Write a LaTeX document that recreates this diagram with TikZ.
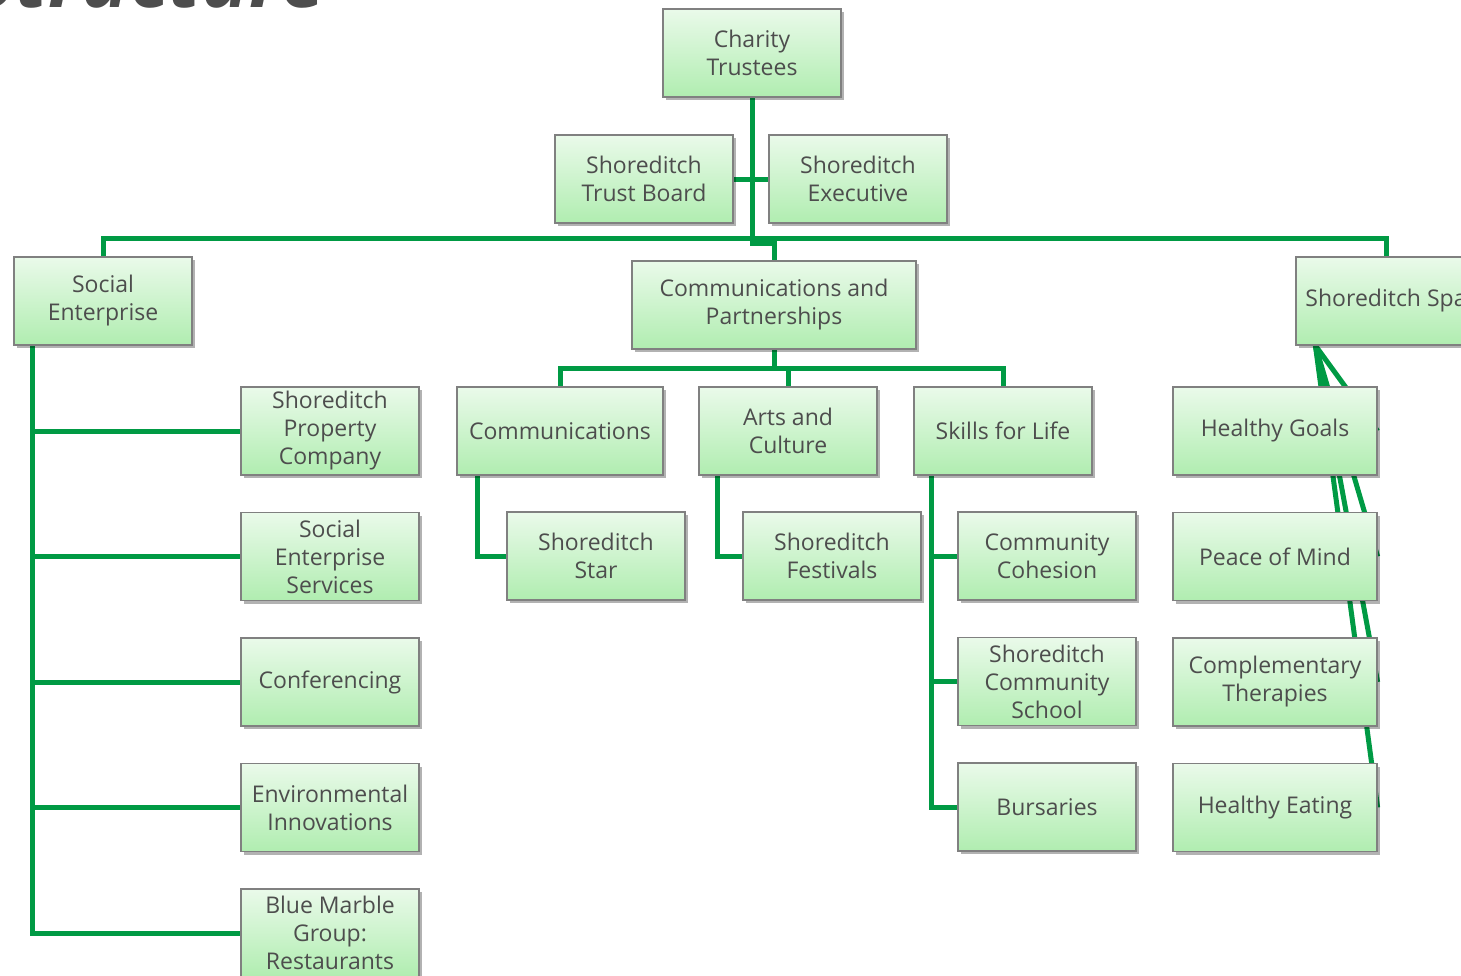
\documentclass[tikz,border=0pt]{standalone}
\usepackage{fontspec}
\setmainfont{Open Sans}
\usetikzlibrary{positioning,shadows,backgrounds}

\definecolor{linegreen}{RGB}{0,154,68}
\definecolor{boxtop}{RGB}{234,250,234}
\definecolor{boxbottom}{RGB}{176,237,176}
\definecolor{boxline}{RGB}{128,128,128}
\definecolor{textgray}{RGB}{77,77,77}

\begin{document}
\begin{tikzpicture}[x=1pt,y=-1pt,node distance=125.5pt,
    org/.style={rectangle,draw=boxline,line width=1.2pt,top color=boxtop,bottom color=boxbottom,
      minimum width=178pt,minimum height=88pt,inner sep=2pt,align=center,text=textgray,
      font=\fontsize{23}{28}\selectfont,
      drop shadow={shadow xshift=3pt,shadow yshift=-3pt,opacity=0.3,fill=black}},
    wide org/.style={org,minimum width=206pt},
    link/.style={draw=linegreen,line width=5pt}]

  \useasboundingbox (0,0) rectangle (1461,975);
  \clip (0,0) rectangle (1461,975);

  \node[font=\fontsize{80}{80}\selectfont\bfseries\itshape,text=textgray,anchor=base east] (title) at (330,7) {Structure};

  % top of the tree
  \node[org] (trustees) at (752,53) {Charity\\Trustees};
  \node[org] (board) at (644,179) {Shoreditch\\Trust Board};
  \node[org] (exec) at (858,179) {Shoreditch\\Executive};

  \node[org] (social) at (103,301) {Social\\Enterprise};
  \node[org,minimum width=284pt] (comms) at (774,305) {Communications and\\Partnerships};
  \node[org,minimum width=180pt] (spa) at (1386,301) {Shoreditch Spa};

  % social enterprise
  \node[org] (prop) at (330,431) {Shoreditch\\Property\\Company};
  \node[org] (ses) [below of=prop] {Social\\Enterprise\\Services};
  \node[org] (conf) [below of=ses] {Conferencing};
  \node[org] (env) [below of=conf] {Environmental\\Innovations};
  \node[org] (blue) [below of=env] {Blue Marble\\Group:\\Restaurants};

  % communications and partnerships
  \node[wide org] (communications) at (560,431) {Communications};
  \node[org] (arts) at (788,431) {Arts and\\Culture};
  \node[org] (skills) at (1003,431) {Skills for Life};
  \node[org] (star) at (596,556) {Shoreditch\\Star};
  \node[org] (fest) at (832,556) {Shoreditch\\Festivals};
  \node[org] (cohesion) at (1047,556) {Community\\Cohesion};
  \node[org] (school) [below of=cohesion] {Shoreditch\\Community\\School};
  \node[org] (bursaries) [below of=school] {Bursaries};

  % spa
  \node[wide org,minimum width=204pt] (goals) at (1275,431) {Healthy Goals};
  \node[wide org,minimum width=204pt] (peace) [below of=goals] {Peace of Mind};
  \node[wide org,minimum width=204pt] (comp) [below of=peace] {Complementary\\Therapies};
  \node[wide org,minimum width=204pt] (eating) [below of=comp] {Healthy Eating};

  \begin{scope}[on background layer]
    \draw[link] (board) -- (exec);
    \draw[link] (trustees.south) -- ++(0,146) -| (comms.north);
    \draw[link] (social.north) -- ++(0,-18) -| (spa.north);
    \foreach \n in {communications,arts,skills}
      \draw[link] (comms.south) -- ++(0,19) -| (\n.north);
    \foreach \n in {prop,ses,conf,env,blue}
      \draw[link] ([xshift=19pt]social.south west) |- (\n.west);
    \draw[link] ([xshift=21pt]communications.south west) |- (star.west);
    \draw[link] ([xshift=19pt]arts.south west) |- (fest.west);
    \foreach \n in {cohesion,school,bursaries}
      \draw[link] ([xshift=18pt]skills.south west) |- (\n.west);
    \foreach \n in {goals,peace,comp,eating}
      \draw[link] ([xshift=20pt]spa.south west) -- (\n.east);
  \end{scope}

\end{tikzpicture}
\end{document}
